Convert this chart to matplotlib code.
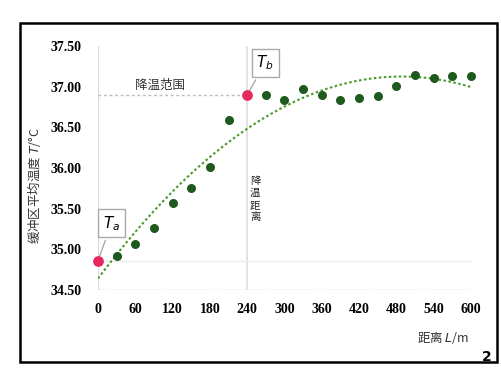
import numpy as np
import matplotlib.pyplot as plt
from matplotlib.patches import Rectangle

plt.rcParams['font.family'] = ['Liberation Serif', 'Noto Sans CJK SC', 'DejaVu Sans']

# distance along the buffer zone (m) and average temperature (degC)
dist = [30, 60, 90, 120, 150, 180, 210, 270, 300, 330, 360, 390, 420, 450,
        480, 510, 540, 570, 600]
temp = [34.92, 35.07, 35.26, 35.57, 35.75, 36.01, 36.59, 36.90, 36.84, 36.97,
        36.90, 36.84, 36.86, 36.89, 37.01, 37.14, 37.11, 37.13, 37.13]
ta_x, ta_y = 0, 34.86
tb_x, tb_y = 240, 36.90
x_ticks = [0, 60, 120, 180, 240, 300, 360, 420, 480, 540, 600]
y_ticks = [34.5, 35.0, 35.5, 36.0, 36.5, 37.0, 37.5]
vert_label = '降温距离'

fig = plt.figure(figsize=(5.01, 3.72), dpi=100)
ax = fig.add_axes([0.1956, 0.2204, 0.7444, 0.6559])
ax.set_xlim(0, 600)
ax.set_ylim(34.5, 37.5)
for s in ax.spines.values():
    s.set_visible(False)
ax.tick_params(length=0)
ax.tick_params(axis='x', pad=9)
ax.tick_params(axis='y', pad=12)
ax.set_xticks(x_ticks)
ax.set_yticks(y_ticks)
ax.set_yticklabels([f'{v:.2f}' for v in y_ticks])
for lab in ax.get_xticklabels() + ax.get_yticklabels():
    lab.set_fontweight('bold')
    lab.set_fontsize(10)

# reference lines
ax.axvline(0, color='#dddddd', lw=1)
ax.axhline(34.5, color='#cccccc', lw=1, ls=(0, (4, 1)))
ax.axvline(tb_x, color='#dddddd', lw=1.2)
ax.axhline(ta_y, color='#eeeeee', lw=1)
ax.plot([0, tb_x], [tb_y, tb_y], color='#bbbbbb', lw=1, ls=(0, (2, 2)))

# trend line
all_x = np.array([ta_x] + dist[:7] + [tb_x] + dist[7:])
all_y = np.array([ta_y] + temp[:7] + [tb_y] + temp[7:])
coef = np.polyfit(all_x, all_y, 2)
xx = np.linspace(0, 600, 200)
ax.plot(xx, np.polyval(coef, xx), color='#4a9a2a', lw=1.5, ls=(0, (1.2, 1.2)))

ax.scatter(dist, temp, s=30, color='#1e5a1e', zorder=3, clip_on=False)
ax.scatter([ta_x, tb_x], [ta_y, tb_y], s=45, color='#e8265e', zorder=4,
           clip_on=False)

box = dict(boxstyle='square,pad=0.3', fc='white', ec='#aaaaaa', lw=1)
ax.annotate('$\\boldsymbol{T_a}$', xy=(ta_x, ta_y), xytext=(8, 35.32),
            fontsize=11, ha='left', va='center', bbox=box,
            arrowprops=dict(arrowstyle='-', color='#aaaaaa', lw=1))
ax.annotate('$\\boldsymbol{T_b}$', xy=(tb_x, tb_y), xytext=(255, 37.29),
            fontsize=11, ha='left', va='center', bbox=box,
            arrowprops=dict(arrowstyle='-', color='#aaaaaa', lw=1))

ax.text(100, 37.02, '降温范围', fontsize=9, family=['Noto Sans CJK SC'],
        ha='center', va='center', color='#333333')
for i, ch in enumerate(vert_label):
    ax.text(tb_x + 13, 35.80 - i * 0.145, ch, fontsize=7.5,
            family=['Noto Sans CJK SC'], ha='center', va='baseline',
            color='#222222')

fig.text(0.068, 0.5, '缓冲区平均温度 $\\mathit{T}$/°C', rotation=90,
         fontsize=9, family=['Noto Sans CJK SC', 'DejaVu Sans'],
         ha='center', va='center', color='#333333')
fig.text(0.884, 0.094, '距离 $\\mathit{L}$/m', fontsize=9,
         family=['Noto Sans CJK SC', 'DejaVu Sans'],
         ha='center', va='center', color='#333333')
fig.text(0.972, 0.04, '2', fontsize=10, fontweight='bold', ha='center',
         va='center', family=['DejaVu Sans'])

fig.patches.append(Rectangle((20 / 501, 1 - 362 / 372), 477 / 501,
                             339 / 372, transform=fig.transFigure,
                             fill=False, ec='black', lw=1.8))

fig.savefig('out.png', dpi=100)
